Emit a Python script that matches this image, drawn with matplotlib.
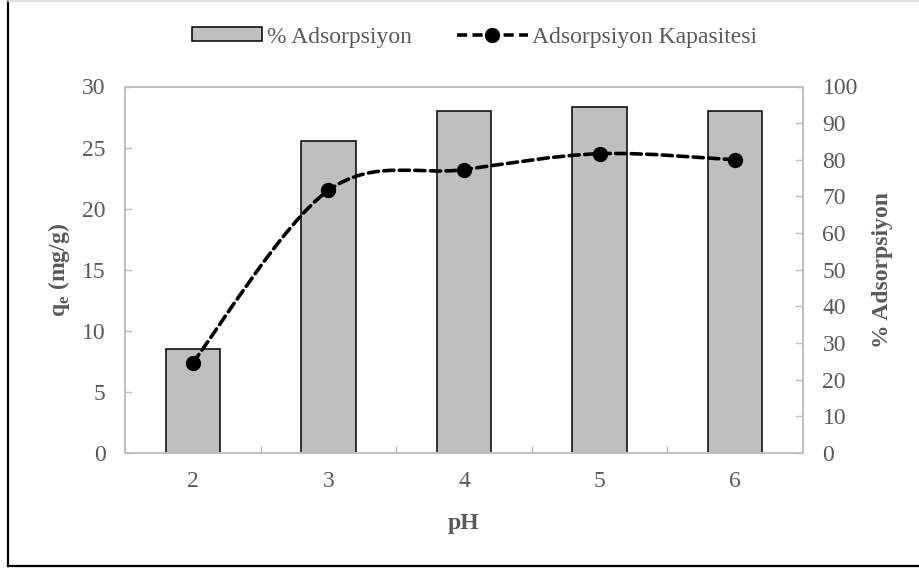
import numpy as np
import matplotlib
matplotlib.use("Agg")
import matplotlib.pyplot as plt
from matplotlib.path import Path
from matplotlib.patches import PathPatch
from matplotlib.lines import Line2D

# data
ph = ["2", "3", "4", "5", "6"]
adsorpsiyon = [28.4, 85.2, 93.3, 94.4, 93.3]      # % Adsorpsiyon (right axis)
kapasite = [7.4, 21.5, 23.2, 24.5, 24.0]          # qe, mg/g (left axis)

plt.rcParams['font.family'] = ['Liberation Serif', 'DejaVu Serif']
plt.rcParams['mathtext.fontset'] = 'custom'
plt.rcParams['mathtext.rm'] = 'Liberation Serif'
plt.rcParams['mathtext.bf'] = 'Liberation Serif:bold'

grey_txt = '#595959'
grey_axis = '#BFBFBF'
fs = 17
dash = (0, (2.8, 1.5))

fig = plt.figure(figsize=(9.2, 5.7), dpi=100)
ax = fig.add_axes([125/920, 1 - 453/570, 678/920, 366.5/570])
ax2 = ax.twinx()

x = np.arange(len(ph))

# bars on the right axis
ax2.bar(x, adsorpsiyon, width=0.4, color='#BFBFBF', edgecolor='black', linewidth=1.1)
ax2.set_ylim(0, 100)
ax2.set_yticks(np.arange(0, 101, 10))

# left axis drawn on top so the line sits above the bars
ax.set_zorder(ax2.get_zorder() + 1)
ax.patch.set_visible(False)

# smoothed line (catmull-rom style bezier, like Excel's smooth line)
pts = np.column_stack([x, kapasite]).astype(float)
n = len(pts)
verts = [pts[0]]
codes = [Path.MOVETO]
for i in range(n - 1):
    p0 = pts[max(i - 1, 0)]
    p1 = pts[i]
    p2 = pts[i + 1]
    p3 = pts[min(i + 2, n - 1)]
    verts += [p1 + (p2 - p0) / 6, p2 - (p3 - p1) / 6, p2]
    codes += [Path.CURVE4] * 3
curve = PathPatch(Path(verts, codes), facecolor='none', edgecolor='black',
                  linewidth=2.6, linestyle=dash, capstyle='round')
ax.add_patch(curve)
ax.plot(x, kapasite, 'o', color='black', markersize=10, zorder=5)

ax.set_xlim(-0.5, len(ph) - 0.5)
ax.set_ylim(0, 30)
ax.set_yticks(np.arange(0, 31, 5))
ax.set_xticks(x)
ax.set_xticklabels(ph)
ax.set_xticks(np.arange(0.5, len(ph) - 1, 1), minor=True)

for a in (ax, ax2):
    for s in a.spines.values():
        s.set_color(grey_axis)
        s.set_linewidth(1.2)

ax.tick_params(axis='y', direction='in', length=5, width=1, color=grey_axis,
               labelsize=fs, labelcolor=grey_txt, pad=14)
ax.tick_params(axis='x', which='major', length=0, labelsize=fs, labelcolor=grey_txt, pad=13)
ax.tick_params(axis='x', which='minor', direction='in', length=5, width=1, color=grey_axis)
ax2.tick_params(axis='y', direction='in', length=6, width=1, color=grey_axis,
                labelsize=fs, labelcolor=grey_txt, pad=14)

ax.set_ylabel(r'q$_{\mathbf{e}}$ (mg/g)', fontsize=fs, fontweight='bold', color=grey_txt)
ax.yaxis.set_label_coords(-0.078, 0.5)
ax2.set_ylabel('% Adsorpsiyon', fontsize=fs, fontweight='bold', color=grey_txt)
ax2.yaxis.set_label_coords(1.1018, 0.5)
ax.set_xlabel('pH', fontsize=fs, fontweight='bold', color=grey_txt)
ax.xaxis.set_label_coords(0.5, -0.164)

# legend
h_bar = plt.Rectangle((0, 0), 1, 1, facecolor='#BFBFBF', edgecolor='black', linewidth=1.1)
h_line = Line2D([], [], color='black', linewidth=2.6, linestyle=dash,
                marker='o', markersize=10)
fig.legend([h_bar, h_line], ['% Adsorpsiyon', 'Adsorpsiyon Kapasitesi'],
           loc='center', bbox_to_anchor=(474.5/920, 1 - 37/570), ncol=2, frameon=False,
           fontsize=fs, handlelength=3.0, handleheight=0.5, handletextpad=0.2,
           columnspacing=1.9, labelcolor=grey_txt)

# outer chart frame
fig.add_artist(Line2D([8/920, 8/920], [1 - 566/570, 1], color='black', linewidth=1.6))
fig.add_artist(Line2D([8/920, 1], [1 - 566/570, 1 - 566/570], color='black', linewidth=1.6))
fig.add_artist(Line2D([8/920, 1], [1 - 0.8/570, 1 - 0.8/570], color='#D9D9D9', linewidth=1.2))

fig.savefig('out.png', dpi=100)
